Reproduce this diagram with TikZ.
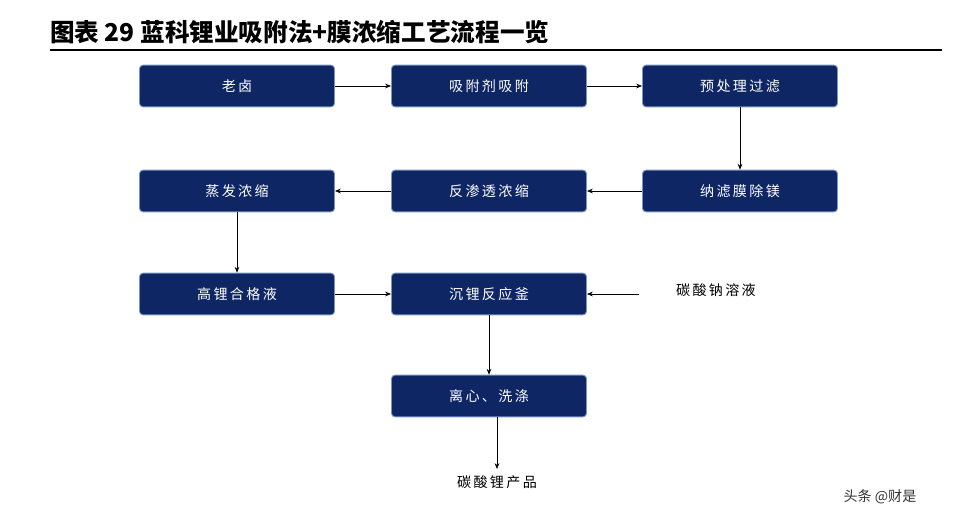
\documentclass[tikz,border=0pt]{standalone}
\usepackage{fontspec}
\setmainfont{Noto Sans CJK SC}
\usetikzlibrary{arrows.meta}
\definecolor{boxblue}{RGB}{14,38,100}
\definecolor{boxedge}{RGB}{120,150,200}
\tikzset{
  procbox/.style={draw=boxedge, fill=boxblue, rounded corners=3pt, line width=0.8pt,
    minimum width=5.85cm, minimum height=1.25cm, text=white, font=\large},
  flow/.style={-{Stealth[length=5pt,width=4pt]}, line width=0.6pt},
  plain/.style={font=\large}
}
\begin{document}
\begin{tikzpicture}[x=0.03cm,y=-0.03cm]
  \useasboundingbox (0,0) rectangle (966,526);
  % title
  \node[anchor=west, font=\fontsize{21}{25}\selectfont\bfseries] (title) at (46,32) {图表 29 蓝科锂业吸附法+膜浓缩工艺流程一览};
  \draw[line width=1pt] (50,50) -- (942,50);

  % process steps
  \node[procbox] (brine) at (237,86) {老\,卤};
  \node[procbox] (adsorb) at (489,86) {吸\,附\,剂\,吸\,附};
  \node[procbox] (prefilter) at (740,86) {预\,处\,理\,过\,滤};
  \node[procbox] (nano) at (740,191) {纳\,滤\,膜\,除\,镁};
  \node[procbox] (ro) at (489,191) {反\,渗\,透\,浓\,缩};
  \node[procbox] (evap) at (237,191) {蒸\,发\,浓\,缩};
  \node[procbox] (liquor) at (237,294) {高\,锂\,合\,格\,液};
  \node[procbox] (reactor) at (489,294) {沉\,锂\,反\,应\,釜};
  \node[procbox] (wash) at (489,396) {离\,心\,、\,洗\,涤};

  % inputs and product
  \node[plain, anchor=west] (soda) at (672,290) {碳\,酸\,钠\,溶\,液};
  \node[plain] (product) at (497,482) {碳\,酸\,锂\,产\,品};
  \node[font=\large, text=black!80] (mark) at (880,497) {头条 @财是};

  % connectors
  \draw[flow] (brine) -- (adsorb);
  \draw[flow] (adsorb) -- (prefilter);
  \draw[flow] (prefilter) -- (nano);
  \draw[flow] (nano) -- (ro);
  \draw[flow] (ro) -- (evap);
  \draw[flow] (evap) -- (liquor);
  \draw[flow] (liquor) -- (reactor);
  \draw[flow] ([xshift=-1cm]soda.west |- reactor) -- (reactor);
  \draw[flow] (reactor) -- (wash);
  \draw[flow] (wash.south -| product) -- ([yshift=2pt]product.north);
\end{tikzpicture}
\end{document}
